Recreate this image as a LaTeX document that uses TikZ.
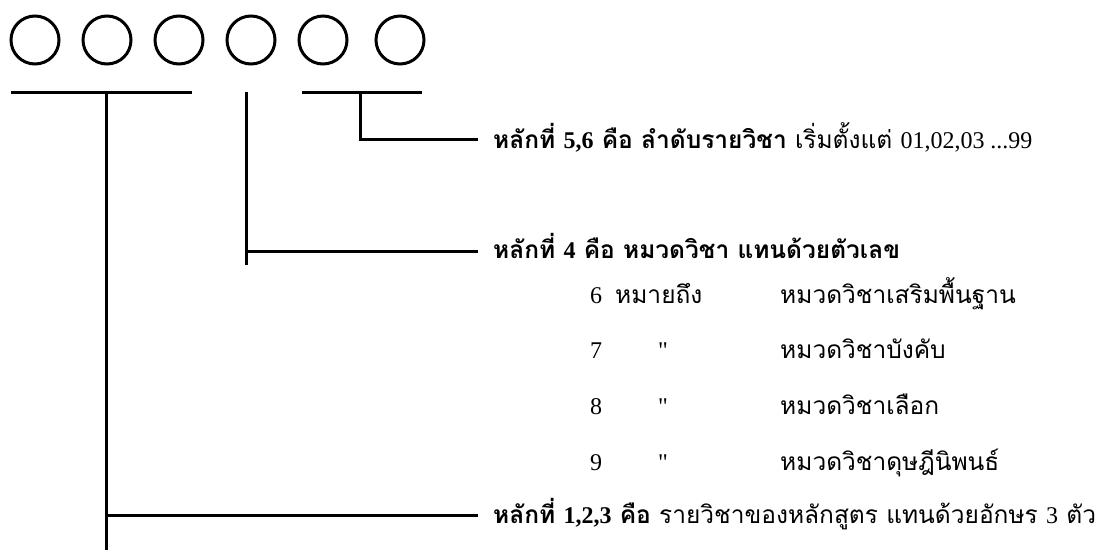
\documentclass[tikz,border=0pt]{standalone}
\usepackage{fontspec}
\newfontfamily\thai[Script=Thai]{Loma}
\newfontfamily\tnrfont{Liberation Serif}
\newcommand{\tnr}{\tnrfont\fontsize{24}{28}\selectfont}
\begin{document}
\begin{tikzpicture}[x=1pt,y=-1pt,
  ln/.style={line width=3pt},
  dig/.style={circle,draw,line width=3pt,minimum size=48pt,inner sep=0pt},
  lbl/.style={anchor=base west,inner sep=0pt,font=\thai\fontsize{24.5}{28}\selectfont},
]
\useasboundingbox (0,0) rectangle (1108,550);
% digit circles
\foreach \i/\x in {1/35,2/107,3/179,4/251,5/323,6/400}
  \node[dig] (c\i) at (\x,40) {};
% bars
\coordinate (bar1l) at (11,92);  \coordinate (bar1r) at (192,92);
\coordinate (bar3l) at (302,92); \coordinate (bar3r) at (422,92);
\draw[ln] (bar1l) -- (bar1r);
\draw[ln] (bar3l) -- (bar3r);
% junction points
\coordinate (j1) at (106,92);  \coordinate (j1b) at (106,550);
\coordinate (j2) at (246,92);  \coordinate (j2b) at (246,265);
\coordinate (j3) at (360,92);
\coordinate (e1) at (478,139);
\coordinate (e2) at (478,251);
\coordinate (e3) at (478,515);
% texts
\node[lbl] (t1) at (493,148) {\bfseries หลักที่ {\tnr\bfseries 5,6} คือ ลำดับรายวิชา \mdseries เริ่มตั้งแต่ {\tnr 01,02,03 ...99}};
\node[lbl] (t2) at (493,258) {\bfseries หลักที่ {\tnr\bfseries 4} คือ หมวดวิชา แทนด้วยตัวเลข};
\node[lbl] (n6) at (590,303) {{\tnr 6}};
\node[lbl] (m6) at (615,303) {หมายถึง};
\node[lbl] (k6) at (780,303) {หมวดวิชาเสริมพื้นฐาน};
\node[lbl] (n7) at (590,358) {{\tnr 7}};
\node[lbl] (q7) at (658,358) {{\tnr "}};
\node[lbl] (k7) at (780,358) {หมวดวิชาบังคับ};
\node[lbl] (n8) at (590,414) {{\tnr 8}};
\node[lbl] (q8) at (658,414) {{\tnr "}};
\node[lbl] (k8) at (780,414) {หมวดวิชาเลือก};
\node[lbl] (n9) at (590,470) {{\tnr 9}};
\node[lbl] (q9) at (658,470) {{\tnr "}};
\node[lbl] (k9) at (780,470) {หมวดวิชาดุษฎีนิพนธ์};
\node[lbl] (t3) at (493,523) {\bfseries หลักที่ {\tnr\bfseries 1,2,3} คือ \mdseries รายวิชาของหลักสูตร แทนด้วยอักษร {\tnr 3} ตัว};
% connectors
\draw[ln] (j3) |- (e1);
\draw[ln] (j2) -- (j2b);
\draw[ln] (j2 |- e2) -- (e2);
\draw[ln] (j1) -- (j1b);
\draw[ln] (j1 |- e3) -- (e3);
\end{tikzpicture}
\end{document}
